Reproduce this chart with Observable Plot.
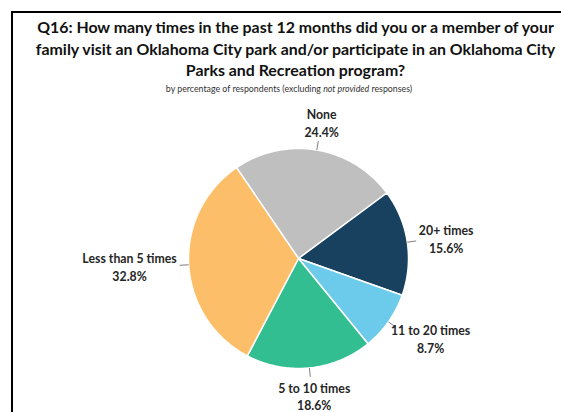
<!DOCTYPE html>
<html><head><meta charset="utf-8">
<script src="https://cdn.jsdelivr.net/npm/d3@7"></script>
<script src="https://cdn.jsdelivr.net/npm/@observablehq/plot@0.6"></script>
<style>
html,body{margin:0;padding:0;background:#fff;}
body{width:561px;height:412px;overflow:hidden;position:relative;font-family:Lato,"Open Sans",sans-serif;}
#frame{position:absolute;left:11px;top:11px;width:700px;height:700px;border:2px solid #000;}
#title{position:absolute;top:16px;left:4px;width:583px;text-align:center;font-weight:700;font-size:15.9px;line-height:21.5px;color:#111;white-space:nowrap;}
#sub{position:absolute;top:83px;left:0;width:578px;text-align:center;font-size:8.8px;color:#333;white-space:nowrap;}
#chart{position:absolute;left:0;top:95px;}
</style></head><body>
<div id="frame"></div>
<div id="title">Q16: How many times in the past 12 months did you or a member of your<br>family visit an Oklahoma City park and/or participate in an Oklahoma City<br>Parks and Recreation program?</div>
<div id="sub">by percentage of respondents (excluding <i>not provided</i> responses)</div>
<div id="chart"></div>
<script>
const categories = ["None", "20+ times", "11 to 20 times", "5 to 10 times", "Less than 5 times"];
const values = [24.4, 15.6, 8.7, 18.6, 32.8];
const colors = ["#BFBFBF", "#17415F", "#6CCBEB", "#32BE90", "#FDBE6A"];

const W = 561, H = 317, cx = 298, cy = 163, R = 110, gap = 12;
const labelFont = "bold 12.3px Lato";
const ctx = document.createElement("canvas").getContext("2d");
ctx.font = labelFont;

const a0 = -34.3 * Math.PI / 180;
const arcs = d3.pie().sort(null).value(d => d.value).startAngle(a0).endAngle(a0 + 2 * Math.PI)
  (categories.map((name, i) => ({name, value: values[i]})));

const points = [];
const labels = [];
for (const a of arcs) {
  const name = a.data.name;
  points.push({name, x: 0, y: 0});
  const n = Math.max(2, Math.ceil((a.endAngle - a.startAngle) / (Math.PI / 180)));
  for (let k = 0; k <= n; k++) {
    const t = a.startAngle + (a.endAngle - a.startAngle) * k / n;
    points.push({name, x: R * Math.sin(t), y: -R * Math.cos(t)});
  }
  points.push({name, x: 0, y: 0});
  const m = (a.startAngle + a.endAngle) / 2;
  const s = Math.sin(m), c = Math.cos(m);
  const pct = a.data.value.toFixed(1) + "%";
  const w = Math.max(ctx.measureText(name).width, ctx.measureText(pct).width);
  const h = 32;
  labels.push({
    name, text: name + "\n" + pct,
    x1: s * R, y1: -c * R, x2: s * (R + 9), y2: -c * (R + 9),
    lx: s * (R + gap) + s * w / 2, ly: -c * (R + gap) - c * h / 2
  });
}

const chart = Plot.plot({
  width: W, height: H, margin: 0,
  x: {domain: [-cx, W - cx], axis: null},
  y: {domain: [-cy, H - cy], reverse: true, axis: null},
  color: {domain: categories, range: colors},
  marks: [
    Plot.line(points, {x: "x", y: "y", z: "name", fill: "name", stroke: "white", strokeWidth: 1.5, strokeLinejoin: "round"}),
    Plot.link(labels, {x1: "x1", y1: "y1", x2: "x2", y2: "y2", stroke: "#7F7F7F", strokeWidth: 1}),
    Plot.text(labels, {x: "lx", y: "ly", text: "text", fontWeight: "bold", fontSize: 12.3, fontFamily: "Lato", lineHeight: 1.45, fill: "#262626"})
  ]
});
document.getElementById("chart").appendChild(chart);
</script>
</body></html>
